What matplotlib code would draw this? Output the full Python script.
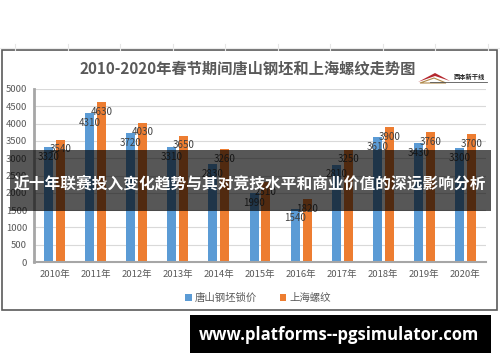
import matplotlib.pyplot as plt
import numpy as np
from matplotlib.patches import Rectangle, Polygon

plt.rcParams['font.family'] = ['Noto Sans CJK SC', 'DejaVu Sans']

years = ['2010年', '2011年', '2012年', '2013年', '2014年', '2015年',
         '2016年', '2017年', '2018年', '2019年', '2020年']
tangshan = [3320, 4310, 3720, 3310, 2830, 1990, 1540, 2810, 3610, 3430, 3300]
shanghai = [3540, 4630, 4030, 3650, 3260, 2310, 1820, 3250, 3900, 3760, 3700]
series_names = ['唐山钢坯锁价', '上海螺纹']

W, H = 500, 362
fig = plt.figure(figsize=(W / 100, H / 100), dpi=100)


def px(x, y):
    # pixel coords (top-left origin) -> figure fraction
    return x / W, 1 - y / H


# faint spreadsheet grid behind the chart
for gx in np.arange(15, 500, 52.5):
    fig.add_artist(plt.Line2D([gx / W, gx / W], [px(0, 44)[1], px(0, 50)[1]],
                              color='#e6e6e6', lw=0.8))
fig.add_artist(plt.Line2D([0, 1], [px(0, 48)[1]] * 2, color='#ececec', lw=0.8))

# chart frame
x0, y0 = px(2, 310)
x1, y1 = px(497, 50)
fig.add_artist(Rectangle((x0, y0), x1 - x0, y1 - y0, transform=fig.transFigure,
                         facecolor='white', edgecolor='#5a5a5a', lw=1.2, zorder=0))

l, b = px(34, 262)
r, t = px(486, 89)
ax = fig.add_axes([l, b, r - l, t - b])
ax.set_zorder(1)

x = np.arange(len(years))
w = 0.22
off = 0.145
bars1 = ax.bar(x - off, tangshan, w, color='#5B9BD5', label=series_names[0], zorder=2)
bars2 = ax.bar(x + off, shanghai, w, color='#ED7D31', label=series_names[1], zorder=2)

for bars, vals in ((bars1, tangshan), (bars2, shanghai)):
    for bar, v in zip(bars, vals):
        ax.annotate(str(v), (bar.get_x() + bar.get_width() / 2, v),
                    xytext=(0, -7), textcoords='offset points',
                    ha='center', va='center', fontsize=7, color='#404040', zorder=3)

ax.set_ylim(0, 5000)
ax.set_xlim(-0.5, len(years) - 0.5)
ax.set_yticks(range(0, 5001, 500))
ax.yaxis.grid(True, color='#d9d9d9', lw=0.8)
ax.set_axisbelow(True)
ax.set_xticks(x)
ax.set_xticklabels(years)
ax.tick_params(axis='both', length=0, labelsize=6.8, colors='#595959')
ax.tick_params(axis='y', pad=5)
ax.tick_params(axis='x', pad=6)
for s in ('top', 'right'):
    ax.spines[s].set_visible(False)
ax.spines['left'].set_color('#a6a6a6')
ax.spines['left'].set_linewidth(2)
ax.spines['bottom'].set_color('#a6a6a6')
ax.spines['bottom'].set_linewidth(1.5)
ax.set_facecolor('none')

fig.text(*px(248, 68), '2010-2020年春节期间唐山钢坯和上海螺纹走势图',
         ha='center', va='center', fontsize=11, fontweight='bold', color='#595959')

fig.legend(loc='center', bbox_to_anchor=px(258, 298), ncol=2, frameon=False,
           fontsize=7.5, handlelength=0.6, handleheight=0.6, columnspacing=2.2,
           handletextpad=0.3, labelcolor='#595959')

# logo
lx, ly = 418, 82
roof = [px(lx, ly), px(lx + 17, ly - 9), px(lx + 32, ly - 1), px(lx + 17, ly - 6)]
fig.add_artist(Polygon(roof, closed=True, transform=fig.transFigure,
                       facecolor='#b5282e', edgecolor='none'))
roof2 = [px(lx + 2, ly + 1), px(lx + 16, ly - 4), px(lx + 28, ly + 1)]
fig.add_artist(Polygon(roof2, closed=True, transform=fig.transFigure,
                       facecolor='none', edgecolor='#b08a4a', lw=0.8))
fig.text(*px(469, 76), '西本新干线', ha='center', va='center', fontsize=4.5,
         fontweight='bold', color='#222222', style='italic')
fig.add_artist(plt.Line2D([px(430, 0)[0], px(487, 0)[0]], [px(0, 82)[1]] * 2,
                          color='#555555', lw=0.6))

# dark overlay banner
bx0, by0 = px(10, 211)
bx1, by1 = px(491, 150)
fig.add_artist(Rectangle((bx0, by0), bx1 - bx0, by1 - by0, transform=fig.transFigure,
                         facecolor='black', alpha=0.66, edgecolor='none', zorder=5))
fig.text(*px(250, 184), '近十年联赛投入变化趋势与其对竞技水平和商业价值的深远影响分析',
         ha='center', va='center', fontsize=11.3, fontweight='bold', color='white',
         zorder=6)

# bottom watermark
wx0, wy0 = px(190, 353)
wx1, wy1 = px(491, 315)
fig.add_artist(Rectangle((wx0, wy0), wx1 - wx0, wy1 - wy0, transform=fig.transFigure,
                         facecolor='black', edgecolor='none', zorder=5))
fig.text(*px(339, 335), 'www.platforms--pgsimulator.com', ha='center', va='center',
         fontsize=12, fontweight='bold', color='white', zorder=6,
         family=['Open Sans', 'DejaVu Sans'])

fig.savefig('out.png', dpi=100)
